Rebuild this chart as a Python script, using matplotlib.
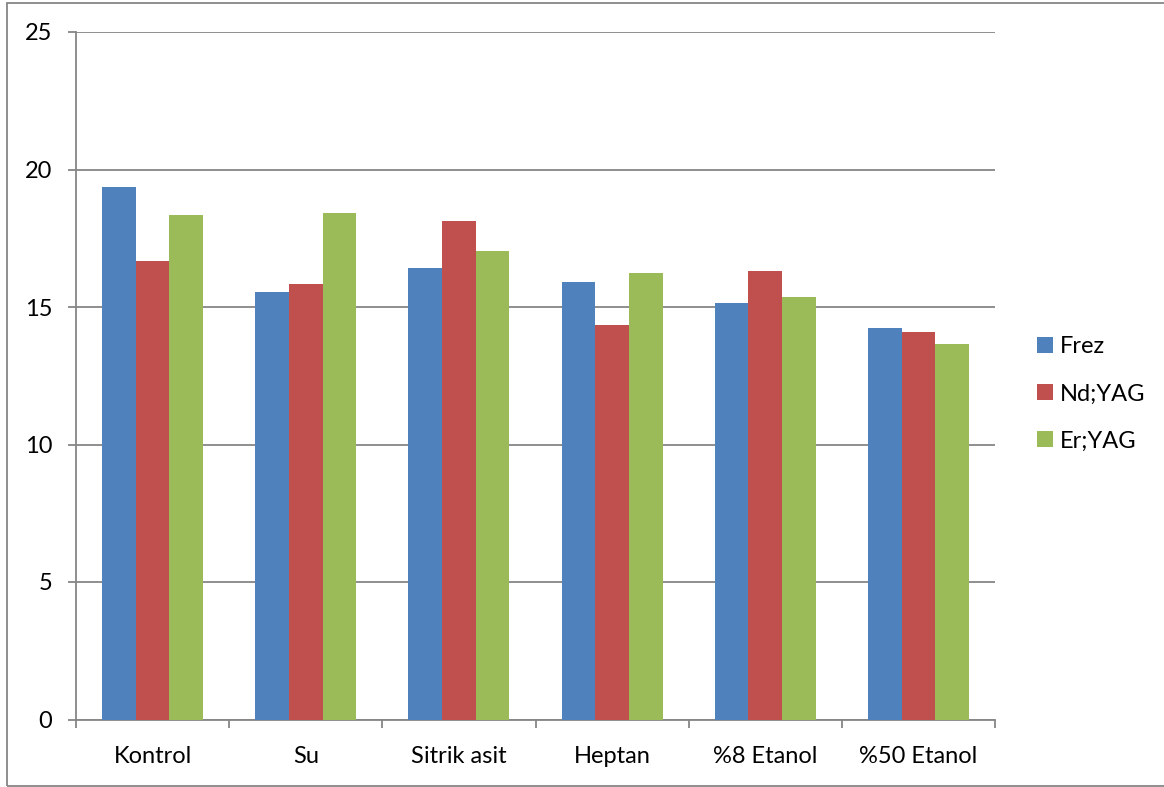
import matplotlib
matplotlib.use("Agg")
import matplotlib.pyplot as plt
from matplotlib.patches import Rectangle
import numpy as np

categories = ["Kontrol", "Su", "Sitrik asit", "Heptan", "%8 Etanol", "%50 Etanol"]
series_names = ["Frez", "Nd;YAG", "Er;YAG"]
frez = [19.38, 15.54, 16.42, 15.90, 15.14, 14.22]
ndyag = [16.69, 15.83, 18.13, 14.35, 16.30, 14.09]
eryag = [18.34, 18.41, 17.04, 16.23, 15.35, 13.65]
colors = ["#4F81BD", "#C0504D", "#9BBB59"]
yticks = [0, 5, 10, 15, 20, 25]

plt.rcParams['font.family'] = ['Lato', 'DejaVu Sans']

W, H = 1164, 787
fig = plt.figure(figsize=(W / 100, H / 100), dpi=100)
ax = fig.add_axes([76 / W, 1 - 719.5 / H, (995 - 76) / W, (719.5 - 32) / H])

x = np.arange(len(categories))
bw = 0.22
for i, (vals, name) in enumerate(zip([frez, ndyag, eryag], series_names)):
    ax.bar(x + (i - 1) * bw, vals, width=bw, color=colors[i], label=name,
           edgecolor='none', zorder=3)

gray = "#868686"
fs = 17
ax.set_xlim(-0.5, len(categories) - 0.5)
ax.set_ylim(0, 25)
ax.set_yticks(yticks)
ax.set_yticklabels([str(t) for t in yticks])
ax.yaxis.grid(True, color=gray, linewidth=1.3, zorder=0)
ax.set_axisbelow(True)
for s in ['top', 'right']:
    ax.spines[s].set_visible(False)
for s in ['left', 'bottom']:
    ax.spines[s].set_color(gray)
    ax.spines[s].set_linewidth(1.3)

ax.set_xticks(np.arange(-0.5, len(categories), 1.0))
ax.set_xticklabels([])
ax.set_xticks(x, minor=True)
ax.set_xticklabels(categories, minor=True, fontsize=fs)
ax.tick_params(axis='x', which='major', direction='out', length=6, width=1.3, color=gray)
ax.tick_params(axis='x', which='minor', length=0, pad=19)
ax.tick_params(axis='y', direction='out', length=6, width=1.3, color=gray, labelsize=fs, pad=11)

leg = ax.legend(loc='center left', bbox_to_anchor=(1.0225, 0.4735), frameon=False,
                fontsize=fs, handlelength=0.68, handleheight=0.68,
                handletextpad=0.3, labelspacing=1.1)

# figure border (left, top, bottom visible)
fig.patches.append(Rectangle((7 / W, 1 - 785.5 / H), 1.2, (785.5 - 3) / H,
                             transform=fig.transFigure, fill=False,
                             edgecolor=gray, linewidth=1.3))

fig.savefig("out.png", dpi=100)
